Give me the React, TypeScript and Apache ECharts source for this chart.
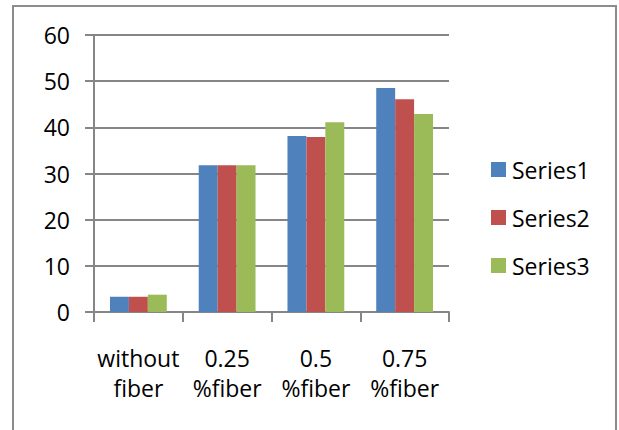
import React, { useEffect, useRef } from "react";
import * as echarts from "echarts";

const categories = ["without\nfiber", "0.25\n%fiber", "0.5\n%fiber", "0.75\n%fiber"];
const seriesNames = ["Series1", "Series2", "Series3"];
const series1 = [3.3, 31.8, 38.1, 48.5];
const series2 = [3.3, 31.8, 37.9, 46.1];
const series3 = [3.75, 31.8, 41.1, 42.9];
const colors = ["#4F81BD", "#C0504D", "#9BBB59"];

const FONT = "Open Sans";
const FS = 23;

export default function App() {
  const ref = useRef<HTMLDivElement>(null);
  useEffect(() => {
    if (!ref.current) return;
    const chart = echarts.init(ref.current, undefined, { renderer: "svg" });
    const data = [series1, series2, series3];
    chart.setOption({
      animation: false,
      backgroundColor: "#ffffff",
      color: colors,
      textStyle: { fontFamily: FONT },
      graphic: [
        {
          type: "rect",
          shape: { x: 13, y: 6, width: 603, height: 440 },
          style: { fill: "none", stroke: "#8c8c8c", lineWidth: 2 },
          silent: true,
        },
      ],
      grid: { left: 94, right: 170, top: 35, bottom: 118 },
      legend: {
        orient: "vertical",
        left: 491,
        top: 158,
        padding: 0,
        itemWidth: 15,
        itemHeight: 15,
        itemGap: 25,
        icon: "rect",
        textStyle: { fontFamily: FONT, fontSize: FS, color: "#000", padding: [0, 0, 0, 1] },
        data: seriesNames,
      },
      xAxis: {
        type: "category",
        data: categories,
        axisLine: { lineStyle: { color: "#868686", width: 2 } },
        axisTick: { show: true, length: 10, alignWithLabel: false, lineStyle: { color: "#868686", width: 2 } },
        axisLabel: {
          interval: 0,
          margin: 31,
          fontFamily: FONT,
          fontSize: FS,
          lineHeight: 30,
          color: "#000",
        },
      },
      yAxis: {
        type: "value",
        min: 0,
        max: 60,
        interval: 10,
        axisLine: { show: true, lineStyle: { color: "#868686", width: 2 } },
        axisTick: { show: true, length: 9, lineStyle: { color: "#868686", width: 2 } },
        splitLine: { show: true, lineStyle: { color: "#868686", width: 2 } },
        axisLabel: { margin: 24, fontFamily: FONT, fontSize: FS, color: "#000" },
      },
      series: seriesNames.map((name, i) => ({
        name,
        type: "bar",
        data: data[i],
        barGap: "0%",
        barCategoryGap: "36%",
        itemStyle: { color: colors[i] },
      })),
    });
    return () => chart.dispose();
  }, []);
  return (
    <div
      ref={ref}
      style={{ position: "fixed", left: 0, top: 0, width: 619, height: 430 }}
    />
  );
}
